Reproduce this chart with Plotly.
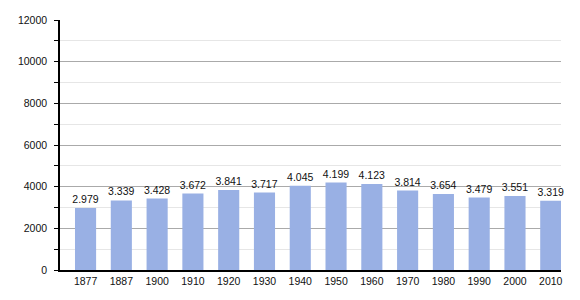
import plotly.graph_objects as go

years = ["1877", "1887", "1900", "1910", "1920", "1930", "1940", "1950", "1960", "1970", "1980", "1990", "2000", "2010"]
population = [2979, 3339, 3428, 3672, 3841, 3717, 4045, 4199, 4123, 3814, 3654, 3479, 3551, 3319]
labels = [f"{v:,}".replace(",", ".") for v in population]
y_ticks = [0, 2000, 4000, 6000, 8000, 10000, 12000]
y_ticktext = [str(v) for v in y_ticks]
xpos = list(range(len(years)))

fig = go.Figure(go.Bar(
    x=xpos, y=population, text=labels, textposition="outside",
    textfont=dict(family="Liberation Sans, Arial", size=10.5, color="#111"),
    constraintext="none",
    width=0.59,
    marker=dict(color="#99b0e4", line=dict(width=0)),
    cliponaxis=False,
))

fig.update_layout(
    width=580, height=300,
    margin=dict(l=60, r=19, t=20, b=30),
    paper_bgcolor="white", plot_bgcolor="white",
    showlegend=False,
    font=dict(family="Liberation Sans, Arial", size=10, color="#111"),
    xaxis=dict(showline=True, linecolor="black", linewidth=2, ticks="",
               range=[-0.714, 13.286], tickvals=xpos, ticktext=years,
               showgrid=False, zeroline=False, tickfont=dict(size=10.5)),
    yaxis=dict(range=[0, 12000], tickvals=y_ticks, ticktext=y_ticktext,
               ticks="outside", ticklen=4, ticklabelstandoff=5,
               tickcolor="black", showline=True, linecolor="black", linewidth=1.5,
               showgrid=True, gridcolor="#aaaaaa", gridwidth=1, zeroline=False,
               tickfont=dict(size=10.5),
               minor=dict(dtick=1000, ticks="outside", ticklen=4, tickcolor="black",
                          showgrid=True, gridcolor="#e6e6e6", gridwidth=1)),
)

fig.write_html("out.html")
